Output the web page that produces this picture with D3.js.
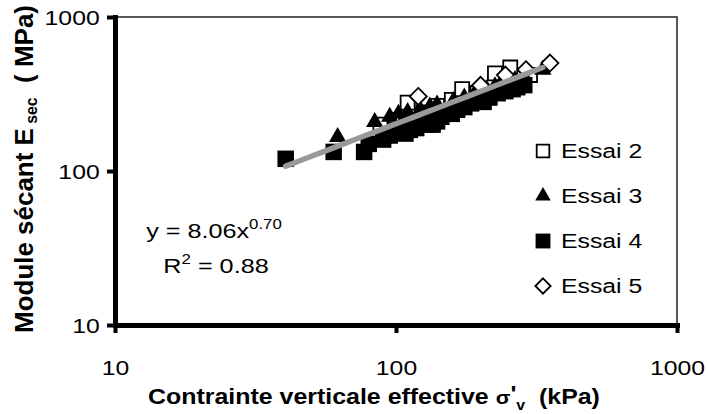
<!DOCTYPE html>
<html><head><meta charset="utf-8">
<script src="https://cdn.jsdelivr.net/npm/d3@7"></script>
<style>body{margin:0;background:#fff} svg{display:block}</style>
</head><body><svg id="c" width="708" height="414"></svg>
<script>
// ---- data ----
const essai2 = [[88,200],[100,215],[110,278],[125,240],[140,265],[158,290],[172,340],[195,320],[225,430],[255,470],[300,420]];
const essai3 = [[62,166],[84,208],[95,225],[102,235],[105,205],[110,242],[117,190],[122,250],[128,220],[132,262],[140,270],[145,235],[150,224],[160,285],[168,262],[175,300],[190,315],[200,330],[210,340],[225,355],[235,365],[250,372],[265,390],[285,410],[333,455]];
const essai4 = [[40.5,120],[60,133],[77,133],[80,150],[90,160],[95,170],[100,185],[108,175],[112,185],[118,190],[123,205],[128,200],[135,200],[140,210],[145,225],[150,240],[158,235],[165,250],[175,260],[185,275],[195,290],[205,281],[215,300],[230,320],[245,330],[260,340],[270,350],[286,361]];
const essai5 = [[120,305],[200,360],[245,420],[290,455],[353,502]];
const seriesNames = ["Essai 2","Essai 3","Essai 4","Essai 5"];
const xTicks = [10,100,1000];
const yTicks = [10,100,1000];
const fitA = 8.06, fitB = 0.70, fitR2 = "0.88";
const fitRange = [40.5, 333];

const FONT = "Arial, 'Liberation Sans', sans-serif";
const svg = d3.select("#c");
const x = d3.scaleLog().domain([10,1000]).range([115,677]);
const y = d3.scaleLog().domain([10,1000]).range([325,17]);

// thin top/right border
svg.append("path")
  .attr("d", `M${x(10)},${y(1000)}H${x(1000)}V${y(10)}`)
  .attr("fill","none").attr("stroke","#222").attr("stroke-width",1.5);

// marker shapes
const shapes = {
  osq: () => d3.symbol().type(d3.symbolSquare).size(14*14)(),
  tri: () => d3.symbol().type(d3.symbolTriangle).size(130)(),
  fsq: () => d3.symbol().type(d3.symbolSquare).size(16.5*16.5)(),
  dia: () => "M0,-8.5L8.5,0L0,8.5L-8.5,0Z"
};
const styles = [
  {shape:"osq", fill:"#fff", stroke:"#000", sw:1.8},
  {shape:"tri", fill:"#000", stroke:"none", sw:0},
  {shape:"fsq", fill:"#000", stroke:"none", sw:0},
  {shape:"dia", fill:"#fff", stroke:"#000", sw:1.8}
];
const allSeries = [essai2, essai3, essai4, essai5];

allSeries.forEach((data, i) => {
  const st = styles[i];
  svg.append("g").selectAll("path").data(data).join("path")
    .attr("d", shapes[st.shape]())
    .attr("transform", d => `translate(${x(d[0])},${y(d[1])})`)
    .attr("fill", st.fill).attr("stroke", st.stroke).attr("stroke-width", st.sw);
});

// power trend line
const fitXs = d3.range(0,21).map(i => fitRange[0]*Math.pow(fitRange[1]/fitRange[0], i/20));
svg.append("path")
  .attr("d", d3.line().x(d => x(d)).y(d => y(fitA*Math.pow(d, fitB)))(fitXs))
  .attr("fill","none").attr("stroke","#999").attr("stroke-width",5.5).attr("stroke-linecap","round");

// axes
const gx = svg.append("g").attr("transform",`translate(0,${y(10)})`)
  .call(d3.axisBottom(x).tickValues(xTicks).tickFormat(d3.format("d")).tickSize(8).tickSizeOuter(0));
const gy = svg.append("g").attr("transform",`translate(${x(10)},0)`)
  .call(d3.axisLeft(y).tickValues(yTicks).tickFormat(d3.format("d")).tickSize(8).tickSizeOuter(0));
[gx, gy].forEach(g => {
  g.select(".domain").attr("stroke","#000").attr("stroke-width",5).attr("stroke-linecap","square");
  g.selectAll(".tick line").attr("stroke","#000").attr("stroke-width",4);
  g.selectAll(".tick text").attr("font-family",FONT).attr("font-size",21).attr("fill","#000");
});
gx.selectAll(".tick text").attr("y",50).attr("dy",0).attr("transform","scale(1.18,1)");
gy.selectAll(".tick text").attr("x",-13).attr("dy","0.36em").attr("transform","scale(1.18,1)");

// y title
const yt = svg.append("text").attr("font-family",FONT).attr("font-weight","bold")
  .attr("font-size",23).attr("text-anchor","middle").style("white-space","pre");
yt.append("tspan").text("Module sécant E");
yt.append("tspan").attr("font-size",14).attr("dy",4).text(" sec");
yt.append("tspan").attr("dy",-4).text("  ( MPa)");
const yl = yt.node().getComputedTextLength();
yt.attr("transform",`translate(33,169) rotate(-90) scale(${328/yl},1.12)`);

// x title
const xt = svg.append("text").attr("font-family",FONT).attr("font-weight","bold")
  .attr("font-size",22).attr("text-anchor","middle").style("white-space","pre");
xt.append("tspan").text("Contrainte verticale effective ");
xt.append("tspan").attr("font-size",19).text("σ");
xt.append("tspan").attr("dy",-3).text("'");
xt.append("tspan").attr("font-size",14).attr("dy",9).text("v");
xt.append("tspan").attr("dy",-6).text("  (kPa)");
const xl = xt.node().getComputedTextLength();
xt.attr("transform",`translate(374,404) scale(${452/xl},1)`);

// equation
const eq1 = svg.append("text").attr("font-family",FONT).attr("font-size",21)
  .attr("text-anchor","middle").attr("transform","translate(214,238) scale(1.2,1)");
eq1.append("tspan").text(`y = ${fitA.toFixed(2)}x`);
eq1.append("tspan").attr("font-size",14).attr("dy",-9).text(fitB.toFixed(2));
const eq2 = svg.append("text").attr("font-family",FONT).attr("font-size",21)
  .attr("text-anchor","middle").attr("transform","translate(216,273) scale(1.2,1)");
eq2.append("tspan").text("R");
eq2.append("tspan").attr("font-size",14).attr("dy",-9).text("2");
eq2.append("tspan").attr("dy",9).text(` = ${fitR2}`);

// legend
const legY = [151,196,241,286];
seriesNames.forEach((name, i) => {
  const st = styles[i];
  const g = svg.append("g");
  g.append("path").attr("d", shapes[st.shape]())
    .attr("transform",`translate(543,${legY[i]}) scale(0.9)`)
    .attr("fill", st.fill).attr("stroke", st.stroke).attr("stroke-width", st.sw/0.9);
  g.append("text").attr("font-family",FONT).attr("font-size",21)
    .attr("transform",`translate(561,${legY[i]+7}) scale(1.18,1)`).text(name);
});
</script></body></html>
